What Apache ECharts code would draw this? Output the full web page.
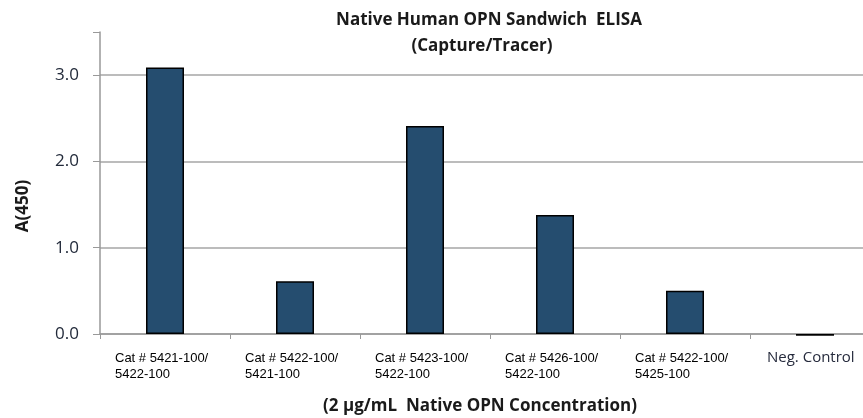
<!DOCTYPE html>
<html>
<head>
<meta charset="utf-8">
<title>Native Human OPN Sandwich ELISA</title>
<script src="https://cdn.jsdelivr.net/npm/echarts@6/dist/echarts.min.js"></script>
<style>
    html, body { margin: 0; padding: 0; background: #fff; }
    #chart { width: 863px; height: 418px; }
</style>
</head>
<body>
<div id="chart"></div>
<script>
// capture / tracer pairs
const categories = [
    'Cat # 5421-100/\n5422-100',
    'Cat # 5422-100/\n5421-100',
    'Cat # 5423-100/\n5422-100',
    'Cat # 5426-100/\n5422-100',
    'Cat # 5422-100/\n5425-100',
    'Neg. Control'
];
const absorbance = [3.09, 0.61, 2.41, 1.38, 0.50, -0.02];
const yTicks = [0, 1, 2, 3];

const chart = echarts.init(document.getElementById('chart'));

const boldText = { fontFamily: 'Open Sans', fontSize: 17, fontWeight: 'bold', color: '#1a1a1a' };

const option = {
    animation: false,
    title: [
        {
            text: 'Native Human OPN Sandwich  ELISA',
            left: 484,
            top: 7,
            textAlign: 'center',
            textStyle: boldText
        },
        {
            text: '(Capture/Tracer)',
            left: 477,
            top: 33,
            textAlign: 'center',
            textStyle: boldText
        }
    ],
    graphic: [
        {
            type: 'text',
            x: 23,
            y: 206,
            rotation: Math.PI / 2,
            style: {
                text: 'A(450)',
                fontFamily: 'Open Sans',
                fontSize: 17,
                fontWeight: 'bold',
                fill: '#1a1a1a',
                align: 'center',
                verticalAlign: 'middle'
            }
        }
    ],
    grid: {
        left: 100,
        top: 32,
        width: 780,
        height: 302,
        outerBoundsMode: 'none'
    },
    xAxis: {
        type: 'category',
        data: categories,
        name: '(2 µg/mL  Native OPN Concentration)',
        nameLocation: 'middle',
        nameGap: 64,
        nameTextStyle: Object.assign({}, boldText, { padding: [0, 20, 0, 0] }),
        axisLine: { lineStyle: { color: '#999', width: 1.5 } },
        axisTick: { show: true, length: 5, lineStyle: { color: '#999' } },
        axisLabel: {
            interval: 0,
            margin: 16,
            fontFamily: 'Liberation Sans',
            fontSize: 13,
            formatter: (val) => {
                if (val === 'Neg. Control') return '{n|' + val + '}';
                return val.split('\n').map(s => '{a|' + s + '}').join('\n');
            },
            rich: {
                a: {
                    width: 100,
                    align: 'left',
                    fontFamily: 'Liberation Sans',
                    fontSize: 13,
                    lineHeight: 16,
                    color: '#000'
                },
                n: {
                    width: 96,
                    align: 'left',
                    fontFamily: 'Open Sans',
                    fontSize: 15,
                    lineHeight: 16,
                    color: '#262b3d'
                }
            }
        }
    },
    yAxis: {
        type: 'value',
        min: 0,
        max: 3.5,
        interval: 1,
        axisLine: { show: true, lineStyle: { color: '#999', width: 1.5 } },
        axisTick: { show: true, length: 7, lineStyle: { color: '#999' } },
        axisLabel: {
            margin: 21,
            fontFamily: 'Open Sans',
            fontSize: 17,
            color: '#222a3a',
            formatter: (v) => (yTicks.includes(v) ? v.toFixed(1) : '')
        },
        splitLine: {
            show: true,
            lineStyle: {
                color: ['#a6a6a6', '#a6a6a6', '#a6a6a6', '#a6a6a6', 'rgba(0,0,0,0)'],
                width: 1.5
            }
        }
    },
    series: [
        {
            type: 'bar',
            barWidth: 38,
            clip: false,
            z: 5,
            data: absorbance,
            itemStyle: {
                color: '#254d6f',
                borderColor: '#000',
                borderWidth: 1.5
            }
        }
    ]
};

chart.setOption(option);
</script>
</body>
</html>
